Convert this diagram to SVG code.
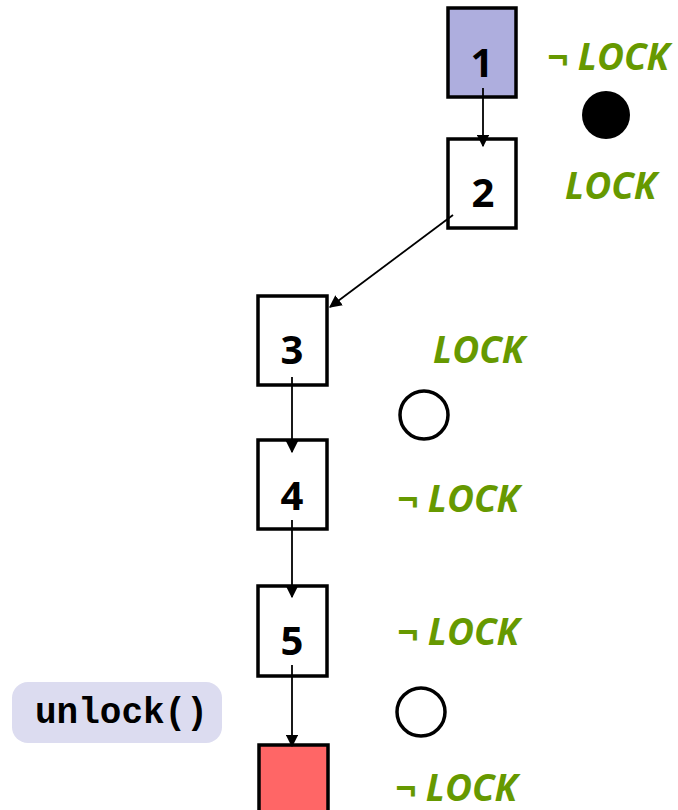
<svg xmlns="http://www.w3.org/2000/svg" width="678" height="810" viewBox="0 0 678 810">
<style>
.box{stroke:#000;stroke-width:3.5;fill:#fff}
.num{font-family:"Open Sans","DejaVu Sans",sans-serif;font-weight:bold;font-size:40px;fill:#000;text-anchor:middle}
.lk{font-family:"Open Sans","DejaVu Sans",sans-serif;font-weight:bold;font-style:italic;font-size:37px;fill:#669900}
.edge{stroke:#000;stroke-width:1.8;fill:none;marker-end:url(#ah)}
.ring{fill:none;stroke:#000;stroke-width:3.5}
</style>
<defs>
<marker id="ah" viewBox="0 0 10 10" refX="9" refY="5" markerWidth="7" markerHeight="7" markerUnits="strokeWidth" orient="auto">
<path d="M0,0 L10,5 L0,10 z" fill="#000"/>
</marker>
</defs>
<rect width="678" height="810" fill="#fff"/>
<g id="node1"><rect class="box" x="448" y="8" width="68" height="89" style="fill:#aeaede"/><text class="num" x="482" y="77">1</text></g>
<g id="node2"><rect class="box" x="448" y="139" width="68" height="89"/><text class="num" x="483" y="207">2</text></g>
<g id="node3"><rect class="box" x="258" y="296" width="69" height="89"/><text class="num" x="292" y="364">3</text></g>
<g id="node4"><rect class="box" x="258" y="440" width="69" height="89"/><text class="num" x="292" y="510">4</text></g>
<g id="node5"><rect class="box" x="258" y="586" width="69" height="90"/><text class="num" x="292" y="655">5</text></g>
<g id="node6"><rect class="box" x="259" y="745" width="69" height="70" style="fill:#ff6666"/></g>
<g id="unlock"><rect x="12" y="682" width="210" height="61" rx="16" fill="#dcdcf0"/><text x="35" y="723" font-family="'Liberation Mono','Courier New',monospace" font-weight="bold" font-size="36" fill="#000">unlock()</text></g>
<g id="labels">
<text class="lk" x="547" y="70">¬ LOCK</text>
<text class="lk" x="565" y="199">LOCK</text>
<text class="lk" x="433" y="363">LOCK</text>
<text class="lk" x="397" y="512">¬ LOCK</text>
<text class="lk" x="397" y="645">¬ LOCK</text>
<text class="lk" x="395" y="801">¬ LOCK</text>
</g>
<g id="markers">
<circle cx="606" cy="115" r="24" fill="#000"/>
<circle class="ring" cx="424" cy="415" r="24"/>
<circle class="ring" cx="421" cy="712" r="24"/>
</g>
<g id="connectors">
<line class="edge" x1="483" y1="88" x2="483" y2="146"/>
<line class="edge" x1="453" y1="215" x2="330" y2="307"/>
<line class="edge" x1="292" y1="377" x2="292" y2="452"/>
<line class="edge" x1="292" y1="520" x2="292" y2="597"/>
<line class="edge" x1="292" y1="665" x2="292" y2="746"/>
</g>
</svg>
